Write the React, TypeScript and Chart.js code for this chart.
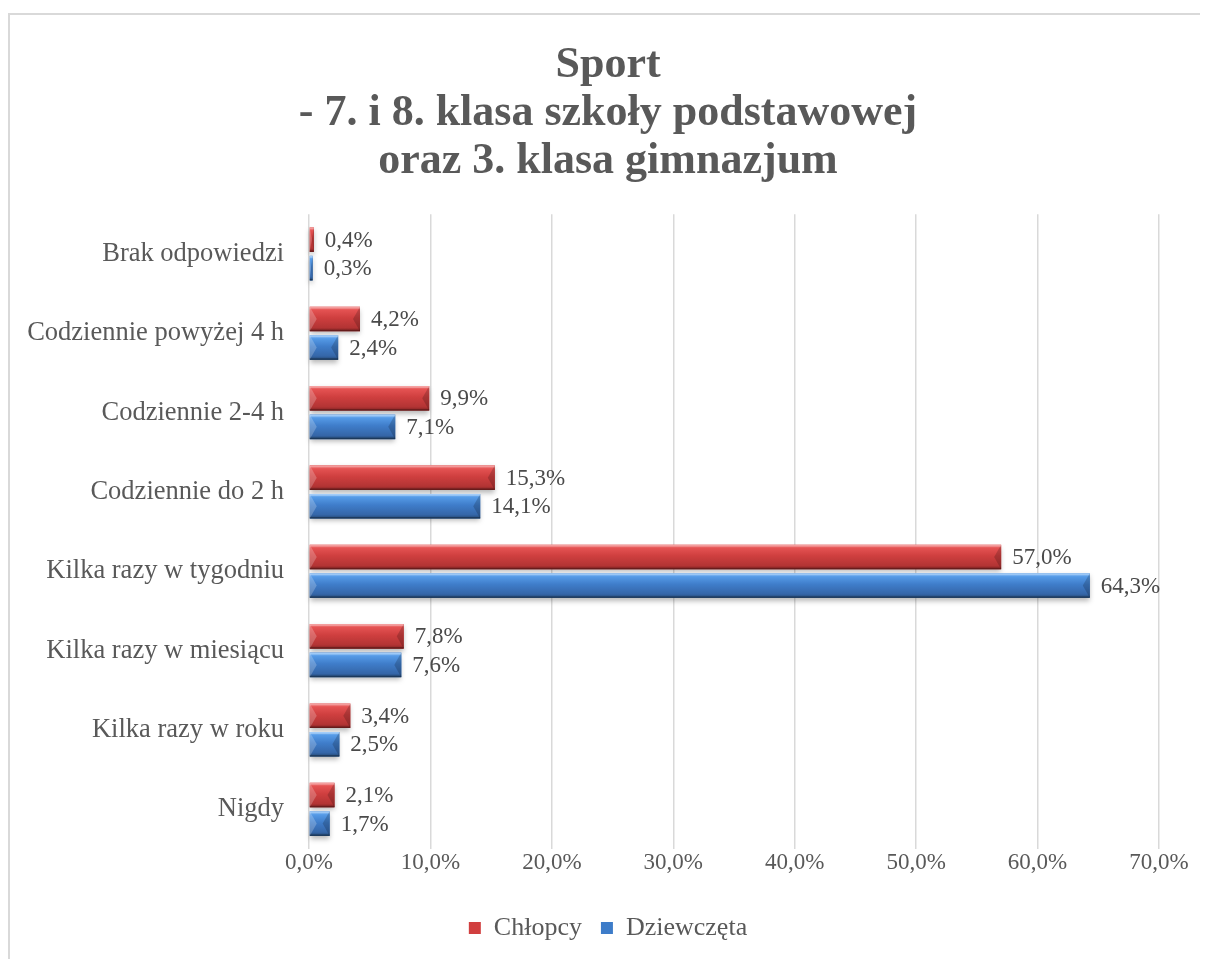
import React, { useEffect, useRef } from "react";
import { Chart, registerables } from "chart.js";

Chart.register(...registerables);

const categories = [
  "Brak odpowiedzi",
  "Codziennie powyżej 4 h",
  "Codziennie 2-4 h",
  "Codziennie do 2 h",
  "Kilka razy w tygodniu",
  "Kilka razy w miesiącu",
  "Kilka razy w roku",
  "Nigdy",
];
const chlopcy = [0.4, 4.2, 9.9, 15.3, 57.0, 7.8, 3.4, 2.1];
const dziewczeta = [0.3, 2.4, 7.1, 14.1, 64.3, 7.6, 2.5, 1.7];
const xTicks = [0, 10, 20, 30, 40, 50, 60, 70];
const titleLines = ["Sport", "- 7. i 8. klasa szkoły podstawowej", "oraz 3. klasa gimnazjum"];

const FONT = "'Liberation Serif', 'Times New Roman', serif";
const fmt = (v: number) => v.toFixed(1).replace(".", ",") + "%";

const palettes = [
  { base: "#d13f3f", stops: ["#f58a8a", "#e45252", "#cf3f3f", "#b33434", "#7f2222"] },
  { base: "#3d7cc9", stops: ["#8cc2fa", "#559ae6", "#3f7dca", "#3566a8", "#23466f"] },
];

const bevelPlugin = {
  id: "bevelBars",
  afterDatasetsDraw(chart: any) {
    const ctx = chart.ctx;
    chart.data.datasets.forEach((ds: any, di: number) => {
      const meta = chart.getDatasetMeta(di);
      if (meta.hidden) return;
      const pal = palettes[di];
      meta.data.forEach((el: any) => {
        const { x, y, base, height } = el.getProps(["x", "y", "base", "height"], true);
        const x0 = Math.min(x, base);
        const x1 = Math.max(x, base);
        const w = x1 - x0;
        const top = y - height / 2;
        const bot = y + height / 2;
        if (w <= 0) return;
        ctx.save();
        ctx.shadowColor = "rgba(0,0,0,0.28)";
        ctx.shadowBlur = 5;
        ctx.shadowOffsetY = 3;
        const g = ctx.createLinearGradient(0, top, 0, bot);
        g.addColorStop(0, pal.stops[0]);
        g.addColorStop(0.14, pal.stops[1]);
        g.addColorStop(0.45, pal.stops[2]);
        g.addColorStop(0.85, pal.stops[3]);
        g.addColorStop(1, pal.stops[4]);
        ctx.fillStyle = g;
        ctx.fillRect(x0, top, w, height);
        ctx.shadowColor = "transparent";
        const dx = Math.min(7, w / 2);
        const mid = (top + bot) / 2;
        ctx.fillStyle = "rgba(255,255,255,0.22)";
        ctx.beginPath();
        ctx.moveTo(x0, top);
        ctx.lineTo(x0 + dx, mid);
        ctx.lineTo(x0, bot);
        ctx.closePath();
        ctx.fill();
        ctx.fillStyle = "rgba(0,0,0,0.18)";
        ctx.beginPath();
        ctx.moveTo(x1, top);
        ctx.lineTo(x1 - dx, mid);
        ctx.lineTo(x1, bot);
        ctx.closePath();
        ctx.fill();
        ctx.fillStyle = "rgba(255,255,255,0.25)";
        ctx.fillRect(x0, top, w, 2);
        ctx.fillStyle = "rgba(0,0,0,0.25)";
        ctx.fillRect(x0, bot - 1.5, w, 1.5);
        ctx.restore();
      });
    });
  },
};

const labelPlugin = {
  id: "valueLabels",
  afterDatasetsDraw(chart: any) {
    const ctx = chart.ctx;
    ctx.save();
    ctx.font = `23px ${FONT}`;
    ctx.fillStyle = "#4a4a4a";
    ctx.textAlign = "left";
    ctx.textBaseline = "middle";
    chart.data.datasets.forEach((ds: any, di: number) => {
      const meta = chart.getDatasetMeta(di);
      meta.data.forEach((el: any, i: number) => {
        const { x, y } = el.getProps(["x", "y"], true);
        ctx.fillText(fmt(ds.data[i]), x + 11, y + 1);
      });
    });
    ctx.restore();
  },
};

export default function App() {
  const ref = useRef<HTMLCanvasElement>(null);
  useEffect(() => {
    if (!ref.current) return;
    const chart = new Chart(ref.current, {
      type: "bar",
      data: {
        labels: categories,
        datasets: [
          { label: "Chłopcy", data: chlopcy, backgroundColor: palettes[0].base, borderWidth: 0, barPercentage: 0.86, categoryPercentage: 0.72 },
          { label: "Dziewczęta", data: dziewczeta, backgroundColor: palettes[1].base, borderWidth: 0, barPercentage: 0.86, categoryPercentage: 0.72 },
        ],
      },
      options: {
        indexAxis: "y",
        responsive: false,
        animation: false,
        layout: { padding: { top: 0, right: 0, bottom: 8, left: 0 } },
        plugins: {
          title: {
            display: true,
            text: titleLines,
            color: "#595959",
            font: { family: FONT, size: 44, weight: "bold", lineHeight: 1.1 },
            padding: { top: 26, bottom: 28 },
          },
          legend: {
            display: true,
            position: "bottom",
            labels: {
              color: "#595959",
              font: { family: FONT, size: 26 },
              boxWidth: 12,
              boxHeight: 12,
              padding: 19,
            },
          },
          tooltip: { enabled: false },
        },
        scales: {
          x: {
            min: 0,
            max: 70,
            afterBuildTicks: (s: any) => {
              s.ticks = xTicks.map((v) => ({ value: v }));
            },
            afterFit: (s: any) => {
              s.height = 47;
            },
            ticks: {
              color: "#595959",
              font: { family: FONT, size: 23 },
              padding: 0,
              callback: (v: any) => fmt(Number(v)),
            },
            grid: { color: "#d9d9d9", lineWidth: 1.5, drawTicks: false },
            border: { display: false },
          },
          y: {
            afterFit: (s: any) => {
              s.width = 299;
            },
            ticks: {
              color: "#595959",
              font: { family: FONT, size: 26.5 },
              padding: 25,
            },
            grid: { display: false, drawTicks: false },
            border: { display: false },
          },
          spacer: {
            type: "linear",
            position: "right",
            display: true,
            afterFit: (s: any) => {
              s.width = 47;
            },
            ticks: { display: false },
            grid: { display: false, drawTicks: false },
            border: { display: false },
          },
        },
      },
      plugins: [bevelPlugin, labelPlugin],
    });
    return () => chart.destroy();
  }, []);
  return (
    <div
      style={{
        position: "relative",
        top: 5,
        width: 1200,
        height: 960,
        border: "2px solid #d9d9d9",
        boxSizing: "border-box",
        background: "#fff",
      }}
    >
      <canvas ref={ref} width={1196} height={944} style={{ display: "block" }} />
    </div>
  );
}
